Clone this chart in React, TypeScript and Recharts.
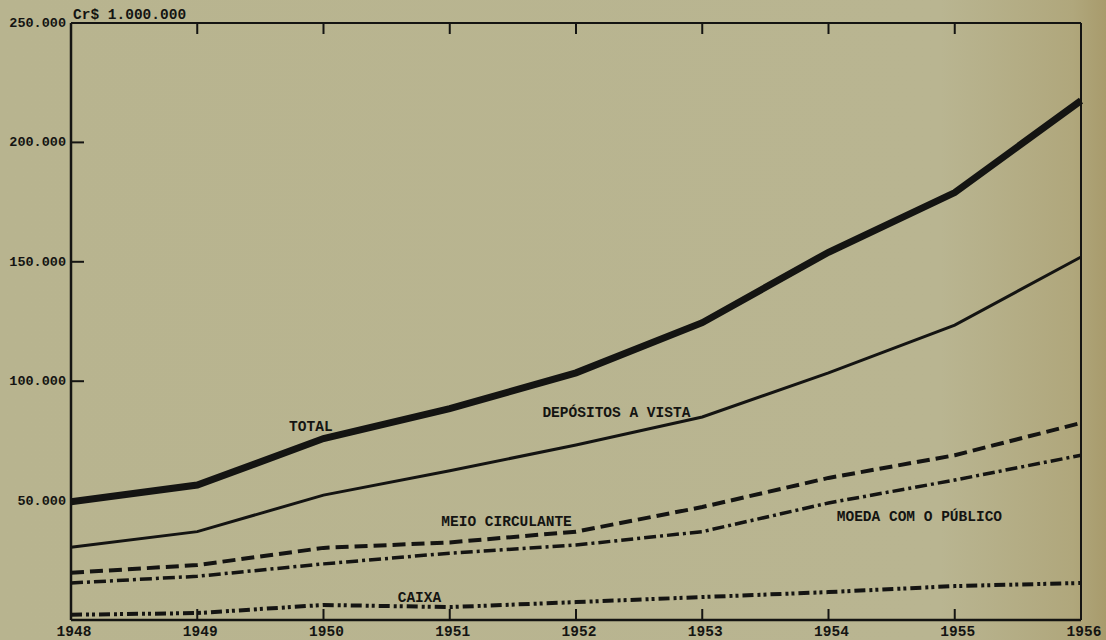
import { LineChart, Line, XAxis, YAxis, ReferenceDot } from "recharts";

const years = [1948, 1949, 1950, 1951, 1952, 1953, 1954, 1955, 1956];
const total = [49500, 56500, 76000, 88500, 103500, 124500, 154000, 179000, 217500];
const depositos = [30500, 37000, 52300, 62500, 73300, 85000, 103500, 123500, 152000];
const meioCirculante = [19800, 23000, 30200, 32500, 37000, 47300, 59500, 69000, 82500];
const moedaPublico = [15500, 18300, 23500, 28000, 31400, 37000, 49000, 58600, 69000];
const caixa = [2200, 2900, 6300, 5400, 7500, 9600, 11700, 14200, 15500];
const yTicks = [50000, 100000, 150000, 200000, 250000];

// series label anchors: [x in years, y in Cr$ 1.000.000]
const seriesLabels: { text: string; x: number; y: number }[] = [
  { text: "TOTAL", x: 1949.9, y: 81500 },
  { text: "DEPÓSITOS A VISTA", x: 1952.32, y: 87000 },
  { text: "MEIO CIRCULANTE", x: 1951.45, y: 41500 },
  { text: "MOEDA COM O PÚBLICO", x: 1954.72, y: 43500 },
  { text: "CAIXA", x: 1950.76, y: 9800 },
];

const data = years.map((year, i) => ({
  year,
  total: total[i],
  depositos: depositos[i],
  meio: meioCirculante[i],
  moeda: moedaPublico[i],
  caixa: caixa[i],
}));

const INK = "#141412";
const FONT = "'Liberation Mono', 'DejaVu Sans Mono', monospace";

const fmt = (v: number) => (v / 1000).toFixed(0) + ".000";

function BottomTick(props: any) {
  const { x, y, payload } = props;
  const edge = payload.value === 1948 || payload.value === 1956;
  return (
    <g>
      {!edge && <line x1={x} y1={y} x2={x} y2={y - 11} stroke={INK} strokeWidth={2} />}
      <text x={x + 3} y={y + 16} textAnchor="middle" fill={INK} fontSize={14.5} fontFamily={FONT} fontWeight={600}>
        {payload.value}
      </text>
    </g>
  );
}

function TopTick(props: any) {
  const { x, y, payload } = props;
  if (payload.value === 1948 || payload.value === 1956) return <g />;
  return <line x1={x} y1={y} x2={x} y2={y + 11} stroke={INK} strokeWidth={2} />;
}

function LeftTick(props: any) {
  const { x, y, payload } = props;
  return (
    <g>
      {payload.value !== 250000 && <line x1={x} y1={y} x2={x + 13} y2={y} stroke={INK} strokeWidth={2} />}
      <text x={x - 5} y={y} dy={4} textAnchor="end" fill={INK} fontSize={13.5} fontFamily={FONT} fontWeight={600}>
        {fmt(payload.value)}
      </text>
    </g>
  );
}

function RightTick(props: any) {
  const { x, y, payload } = props;
  if (payload.value === 250000) return <g />;
  return <line x1={x} y1={y} x2={x - 13} y2={y} stroke={INK} strokeWidth={2} />;
}

export default function App() {
  return (
    <div
      style={{
        position: "fixed",
        left: 0,
        top: 0,
        width: 1106,
        height: 640,
        background: "linear-gradient(90deg, #b8b48f 0%, #b9b591 85%, #b0a77c 97%, #a89b6c 100%)",
      }}
    >
      <LineChart width={1106} height={640} data={data} margin={{ top: 22, right: 24, bottom: 0, left: 0 }}>
        <XAxis
          xAxisId="b"
          dataKey="year"
          type="number"
          domain={[1948, 1956]}
          ticks={years}
          interval={0}
          height={20}
          tickSize={0}
          tickMargin={0}
          axisLine={{ stroke: INK, strokeWidth: 2.5 }}
          tickLine={false}
          tick={<BottomTick />}
        />
        <XAxis
          xAxisId="t"
          orientation="top"
          dataKey="year"
          type="number"
          domain={[1948, 1956]}
          ticks={years}
          interval={0}
          height={1}
          tickSize={0}
          tickMargin={0}
          axisLine={{ stroke: INK, strokeWidth: 2 }}
          tickLine={false}
          tick={<TopTick />}
        />
        <YAxis
          yAxisId="l"
          type="number"
          domain={[0, 250000]}
          ticks={yTicks}
          interval={0}
          width={71}
          tickSize={0}
          tickMargin={0}
          axisLine={{ stroke: INK, strokeWidth: 2.5 }}
          tickLine={false}
          tick={<LeftTick />}
        />
        <YAxis
          yAxisId="r"
          orientation="right"
          type="number"
          domain={[0, 250000]}
          ticks={yTicks}
          interval={0}
          width={1}
          tickSize={0}
          tickMargin={0}
          axisLine={{ stroke: INK, strokeWidth: 2 }}
          tickLine={false}
          tick={<RightTick />}
        />
        <Line xAxisId="b" yAxisId="l" type="linear" dataKey="caixa" stroke={INK} strokeWidth={4}
          strokeDasharray="11 4 3 3 3 4" dot={false} isAnimationActive={false} />
        <Line xAxisId="b" yAxisId="l" type="linear" dataKey="moeda" stroke={INK} strokeWidth={3.5}
          strokeDasharray="12 4 3 4" dot={false} isAnimationActive={false} />
        <Line xAxisId="b" yAxisId="l" type="linear" dataKey="meio" stroke={INK} strokeWidth={4}
          strokeDasharray="13 6" dot={false} isAnimationActive={false} />
        <Line xAxisId="b" yAxisId="l" type="linear" dataKey="depositos" stroke={INK} strokeWidth={3}
          dot={false} isAnimationActive={false} />
        <Line xAxisId="b" yAxisId="l" type="linear" dataKey="total" stroke={INK} strokeWidth={7}
          dot={false} isAnimationActive={false} />
        {seriesLabels.map((l) => (
          <ReferenceDot
            key={l.text}
            xAxisId="b"
            yAxisId="l"
            x={l.x}
            y={l.y}
            r={0}
            stroke="none"
            fill="none"
            ifOverflow="visible"
            label={{ value: l.text, position: "center", fill: INK, fontSize: 14.5, fontFamily: FONT, fontWeight: 600 }}
          />
        ))}
        <ReferenceDot
          xAxisId="b"
          yAxisId="l"
          x={1948}
          y={254000}
          r={0}
          stroke="none"
          fill="none"
          ifOverflow="visible"
          label={{ value: "Cr$ 1.000.000", position: "right", offset: 2, fill: INK, fontSize: 14.5, fontFamily: FONT, fontWeight: 600 }}
        />
      </LineChart>
    </div>
  );
}
